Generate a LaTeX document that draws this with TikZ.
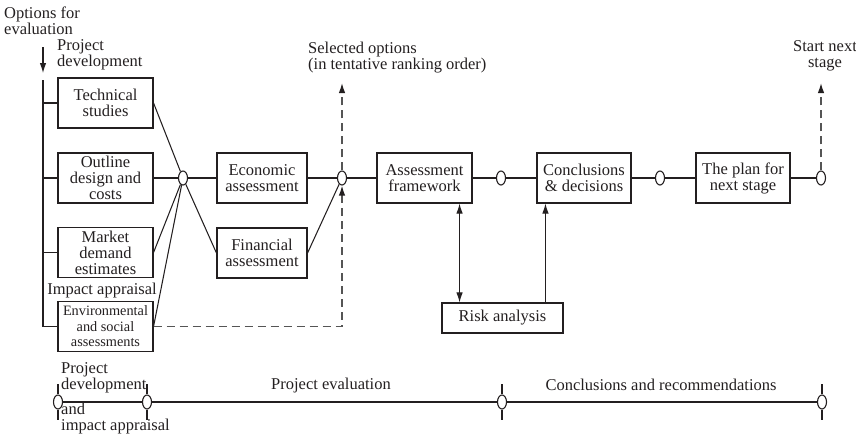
\documentclass[tikz,border=0pt]{standalone}
\usepackage{fontspec}
\setmainfont{Liberation Serif}
\usetikzlibrary{shapes.geometric,arrows.meta,calc}
\definecolor{ink}{HTML}{231F20}
\definecolor{dashc}{HTML}{555555}
\begin{document}
\begin{tikzpicture}[x=1pt,y=-1pt,
  every node/.style={font=\fontsize{16.5}{16}\selectfont, text=ink},
  box/.style={draw=ink, line width=1.1pt, minimum width=95pt, minimum height=50pt, inner sep=0pt, align=center},
  joint/.style={draw=ink, line width=1.1pt, ellipse, fill=white, minimum width=9pt, minimum height=14pt, inner sep=0pt},
  conn/.style={draw=ink, line width=1.05pt},
  dconn/.style={draw=dashc, line width=1.3pt, dash pattern=on 8pt off 5pt},
  tip/.style={-{Latex[length=10pt,width=6.5pt,color=ink]}},
  lbl/.style={inner sep=0pt},
]
\useasboundingbox (0,0) rectangle (856,437);

% boxes
\node[box] (tech) at (105.5,103) {Technical\\studies};
\node[box] (outl) at (105.5,178) {Outline\\design and\\costs};
\node[box] (mkt) at (105.5,252.5) {Market\\demand\\estimates};
\node[box, font=\fontsize{14.3}{15.5}\selectfont] (env) at (105.5,326.5) {Environmental\\and social\\assessments};
\node[box, minimum width=90pt] (econ) at (262,178) {Economic\\assessment};
\node[box, minimum width=90pt] (fin) at (262,253) {Financial\\assessment};
\node[box] (asf) at (424.5,178) {Assessment\\framework};
\node[box, minimum width=94pt] (conc) at (584,178) {Conclusions\\\& decisions};
\node[box, minimum width=94pt] (plan) at (743,178) {The plan for\\next stage};
\node[box, minimum width=121pt, minimum height=30pt] (risk) at (502.5,318) {Risk analysis};

% joints
\node[joint] (j1) at (183,178) {};
\node[joint] (j2) at (342,178) {};
\node[joint] (j3) at (501,178) {};
\node[joint] (j4) at (660,178) {};
\node[joint] (j5) at (821,178) {};

% labels
\node[lbl, anchor=west, align=left] (opt) at (4,21) {Options for\\evaluation};
\node[lbl, anchor=west, align=left] (pdev) at (57,55) {Project\\development};
\node[lbl, anchor=west, align=left] (sel) at (308,58) {Selected options\\(in tentative ranking order)};
\node[lbl, align=center] (snx) at (825,56) {Start next\\stage};
\node[lbl] (imp) at (102,291) {Impact appraisal};

% input arrow and spine
\coordinate (a1) at (43,47);
\coordinate (a2) at (43,73);
\draw[conn,tip] (a1) -- (a2);
\coordinate (s1) at (43,80);
\draw[conn] (s1) |- (env.west);
\draw[conn] (tech.west) -- (tech.west -| s1);
\draw[conn] (outl.west) -- (outl.west -| s1);
\draw[conn] (mkt.west) -- (mkt.west -| s1);

% fan into first joint
\draw[conn] (tech.east) -- (j1);
\draw[conn] (outl.east) -- (j1);
\draw[conn] (mkt.east) -- (j1);
\draw[conn] (env.east) -- (j1);
\draw[conn] (j1) -- (econ.west);
\draw[conn] (j1) -- (fin.west);

% main chain
\draw[conn] (econ.east) -- (j2);
\draw[conn] (fin.east) -- (j2);
\draw[conn] (j2) -- (asf.west);
\draw[conn] (asf.east) -- (j3);
\draw[conn] (j3) -- (conc.west);
\draw[conn] (conc.east) -- (j4);
\draw[conn] (j4) -- (plan.west);
\draw[conn] (plan.east) -- (j5);

% dashed outputs
\draw[dconn,tip] (env.east) -| (j2.south);
\coordinate (selT) at (342,83);
\draw[dconn,tip] (j2.north) -- (selT);
\coordinate (snT) at (821,83);
\draw[dconn,tip] (j5.north) -- (snT);

% risk analysis
\coordinate (ra) at ($(asf.south east)+(-13,0)$);
\draw[conn,{Latex[length=10pt,width=6.5pt]}-{Latex[length=10pt,width=6.5pt]}] (ra) -- (ra |- risk.north);
\coordinate (rb) at ($(conc.south west)+(9,0)$);
\draw[conn,tip] (rb |- risk.north) -- (rb);

% timeline
\node[joint] (t1) at (58,402) {};
\node[joint] (t2) at (147,402) {};
\node[joint] (t3) at (502,402) {};
\node[joint] (t4) at (822,402) {};
\draw[conn] (t1) -- (t2);
\draw[conn] (t2) -- (t3);
\draw[conn] (t3) -- (t4);
\foreach \t in {t1,t2,t3,t4} {
  \draw[conn] (\t.north) -- ++(0,-10);
  \draw[conn] (\t.south) -- ++(0,10);
}
\node[lbl, anchor=west, align=left] (tl1) at (61,378) {Project\\development};
\node[lbl, anchor=west, align=left] (tl2) at (61,419) {and\\impact appraisal};
\node[lbl] (tl3) at (331,386) {Project evaluation};
\node[lbl] (tl4) at (661,385) {Conclusions and recommendations};
\end{tikzpicture}
\end{document}
